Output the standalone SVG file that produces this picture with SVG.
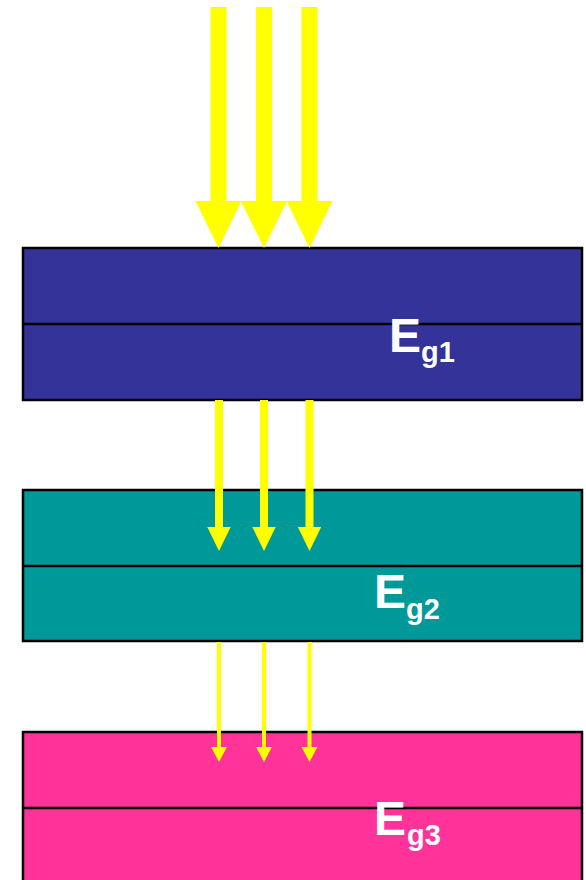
<svg xmlns="http://www.w3.org/2000/svg" width="586" height="880" viewBox="0 0 586 880">
<style>
.box{stroke:#000;stroke-width:2.5}
.div{stroke:#000;stroke-width:2.5}
.arr{fill:#FFFF00}
.lbl{font-family:"Liberation Sans",Arial,sans-serif;font-weight:bold;fill:#fff}
.big{font-size:48px}
.sub{font-size:29px}
</style>
<rect width="586" height="880" fill="#fff"/>
<g id="layer1">
<rect class="box" x="23" y="248" width="559" height="152" fill="#333399"/>
<line class="div" x1="23" y1="324" x2="582" y2="324"/>
<text class="lbl big" x="389" y="352">E</text>
<text class="lbl sub" x="421" y="362">g1</text>
</g>
<g id="layer2">
<rect class="box" x="23" y="490" width="559" height="151" fill="#009999"/>
<line class="div" x1="23" y1="566" x2="582" y2="566"/>
<text class="lbl big" x="374" y="608">E</text>
<text class="lbl sub" x="406" y="619">g2</text>
</g>
<g id="layer3">
<rect class="box" x="23" y="732" width="559" height="160" fill="#FF3399"/>
<line class="div" x1="23" y1="808" x2="582" y2="808"/>
<text class="lbl big" x="374" y="835">E</text>
<text class="lbl sub" x="407" y="845">g3</text>
</g>
<g id="connectors">
<polygon class="arr" points="210.5,7 226.5,7 226.5,201 241.5,201 218.5,248 195.5,201 210.5,201"/>
<polygon class="arr" points="256,7 272,7 272,201 287,201 264,248 241,201 256,201"/>
<polygon class="arr" points="301.5,7 317.5,7 317.5,201 332.5,201 309.5,248 286.5,201 301.5,201"/>
<polygon class="arr" points="215,400 223,400 223,527 230.7,527 219,551 207.3,527 215,527"/>
<polygon class="arr" points="260,400 268,400 268,527 275.7,527 264,551 252.3,527 260,527"/>
<polygon class="arr" points="305.5,400 313.5,400 313.5,527 321.2,527 309.5,551 297.8,527 305.5,527"/>
<polygon class="arr" points="217,642 221,642 221,747 227,747 219,762 211,747 217,747"/>
<polygon class="arr" points="262,642 266,642 266,747 272,747 264,762 256,747 262,747"/>
<polygon class="arr" points="307.5,642 311.5,642 311.5,747 317.5,747 309.5,762 301.5,747 307.5,747"/>
</g>
</svg>
